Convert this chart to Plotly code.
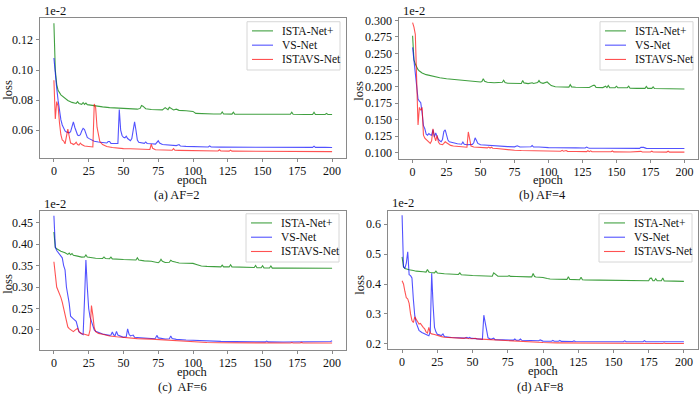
import plotly.graph_objects as go

# ---------------- data (epoch, loss in units of 1e-2) ----------------
series_names = ["ISTA-Net+", "VS-Net", "ISTAVS-Net"]
x_ticks = [0, 25, 50, 75, 100, 125, 150, 175, 200]

af2_ista = [(0,0.131),(1,0.100),(2,0.0905),(3,0.0865),(5,0.0835),(8,0.081),(10,0.0798),(13,0.0785),(15,0.0778),(16,0.0778),(17,0.0790),(18,0.0778),(20,0.0772),(21,0.0784),(22,0.0772),(23,0.0780),(24,0.0770),(27,0.0765),(30,0.0760),(35,0.0755),(40,0.0750),(45,0.0747),(50,0.0744),(55,0.0742),(60,0.0740),(62,0.0745),(63,0.0765),(64,0.0760),(66,0.0743),(70,0.0738),(75,0.0736),(78,0.0735),(80,0.0750),(81,0.0745),(82,0.0737),(83,0.0752),(84,0.0745),(86,0.0735),(88,0.0740),(89,0.0733),(90,0.0732),(95,0.0729),(98,0.0727),(100,0.0725),(102,0.0712),(105,0.0710),(110,0.0709),(115,0.0708),(120,0.0708),(121,0.0722),(122,0.0708),(125,0.0707),(128,0.0707),(129,0.0720),(130,0.0707),(140,0.0706),(150,0.0706),(160,0.0706),(170,0.0706),(171,0.0720),(172,0.0706),(180,0.0705),(186,0.0705),(187,0.0720),(188,0.0705),(195,0.0705),(196,0.0712),(197,0.0705),(200,0.0705)]
af2_vs = [(0,0.108),(1,0.095),(2,0.088),(3,0.080),(4,0.0715),(5,0.067),(6,0.0635),(7,0.061),(8,0.0595),(9,0.0588),(10,0.0585),(11,0.0583),(12,0.059),(13,0.0625),(14,0.0655),(15,0.062),(16,0.0585),(17,0.0568),(18,0.0564),(19,0.0570),(20,0.0595),(21,0.0613),(22,0.0605),(23,0.0575),(24,0.0553),(25,0.0546),(27,0.0535),(29,0.0527),(32,0.0522),(35,0.0518),(38,0.0515),(39,0.0525),(40,0.0525),(41,0.0513),(44,0.051),(46,0.0512),(47,0.0737),(48,0.060),(49,0.0565),(50,0.0553),(51,0.0550),(52,0.0560),(53,0.0545),(55,0.0530),(56,0.0545),(57,0.0620),(58,0.0655),(59,0.0600),(60,0.0535),(61,0.0520),(63,0.0515),(65,0.0513),(66,0.0522),(67,0.0512),(70,0.051),(73,0.0508),(75,0.053),(76,0.0515),(78,0.0505),(82,0.0503),(85,0.050),(88,0.0498),(90,0.0505),(91,0.0495),(95,0.0493),(100,0.0492),(105,0.049),(111,0.0489),(112,0.0496),(113,0.0489),(120,0.0488),(130,0.0487),(140,0.0487),(150,0.0486),(170,0.0486),(186,0.0486),(187,0.0494),(188,0.0486),(195,0.0486),(200,0.0485)]
af2_istavs = [(0,0.0932),(1,0.0675),(2,0.0790),(3,0.0760),(4,0.0650),(5,0.0570),(6,0.0535),(7,0.0528),(8,0.0510),(9,0.0575),(10,0.0607),(11,0.0560),(12,0.0515),(13,0.0512),(14,0.0505),(15,0.0510),(16,0.0520),(17,0.0505),(18,0.0502),(19,0.0515),(20,0.0505),(22,0.0495),(25,0.0490),(28,0.0489),(29,0.0775),(30,0.0750),(31,0.0620),(32,0.0560),(33,0.0525),(35,0.0505),(38,0.0492),(42,0.0485),(47,0.0480),(50,0.0478),(55,0.0477),(60,0.0475),(65,0.0473),(69,0.0472),(70,0.0507),(71,0.0480),(73,0.0470),(80,0.0468),(85,0.0467),(86,0.0478),(87,0.0467),(90,0.0466),(100,0.0464),(110,0.0463),(118,0.0462),(119,0.0470),(120,0.0462),(126,0.0461),(127,0.0468),(128,0.0461),(140,0.0460),(150,0.0459),(160,0.0459),(175,0.0458),(190,0.0458),(200,0.0458)]

af4_ista = [(0,0.2768),(1,0.2404),(2,0.2340),(3,0.2285),(4,0.2255),(5,0.2235),(7,0.2205),(10,0.218),(15,0.2153),(20,0.2132),(25,0.2118),(30,0.2107),(35,0.2095),(40,0.2083),(45,0.2075),(50,0.2068),(51,0.2075),(52,0.2117),(53,0.2080),(55,0.2064),(60,0.2058),(65,0.2055),(66,0.2065),(67,0.2095),(68,0.2060),(70,0.2050),(75,0.2048),(80,0.2046),(81,0.2090),(82,0.2055),(85,0.2045),(88,0.2058),(89,0.2046),(92,0.2060),(93,0.2090),(94,0.2060),(96,0.2048),(98,0.2055),(99,0.2070),(100,0.2050),(102,0.2015),(105,0.1998),(110,0.1995),(115,0.1992),(116,0.2028),(117,0.1995),(120,0.1990),(125,0.1988),(130,0.1986),(133,0.2020),(134,0.2018),(135,0.1985),(140,0.1984),(142,0.2005),(143,0.1984),(144,0.2015),(145,0.1984),(149,0.1983),(150,0.2005),(151,0.1982),(158,0.1982),(159,0.2005),(160,0.1975),(165,0.1973),(171,0.1972),(172,0.2000),(173,0.1972),(176,0.1972),(177,0.1995),(178,0.1970),(185,0.1966),(190,0.1964),(200,0.1962)]
af4_vs = [(0,0.2593),(1,0.2404),(2,0.2157),(3,0.1960),(4,0.1810),(5,0.1780),(6,0.1755),(7,0.1606),(8,0.1408),(9,0.1362),(10,0.1280),(11,0.1265),(12,0.1290),(13,0.1270),(14,0.1264),(15,0.1350),(16,0.1235),(17,0.1298),(18,0.1240),(19,0.1200),(20,0.1180),(21,0.1165),(22,0.1200),(23,0.1320),(24,0.1345),(25,0.1250),(26,0.1190),(27,0.1165),(30,0.1145),(33,0.1135),(35,0.1130),(36,0.1128),(37,0.1160),(38,0.1128),(40,0.1120),(44,0.1125),(45,0.1150),(46,0.1225),(47,0.1185),(48,0.1140),(50,0.1120),(53,0.1115),(55,0.1110),(58,0.1115),(60,0.1105),(65,0.1098),(70,0.1092),(75,0.1088),(77,0.1105),(79,0.1085),(85,0.1082),(87,0.1090),(88,0.1108),(89,0.1085),(93,0.1085),(95,0.1080),(100,0.1077),(105,0.1075),(109,0.1075),(110,0.1082),(111,0.1074),(120,0.1072),(127,0.1070),(128,0.1085),(129,0.1075),(130,0.1068),(140,0.1067),(150,0.1066),(160,0.1065),(167,0.1065),(168,0.1080),(170,0.1080),(172,0.1065),(180,0.1064),(190,0.1063),(200,0.1062)]
af4_istavs = [(0,0.2966),(1,0.2900),(2,0.2790),(3,0.2200),(4,0.1420),(5,0.1685),(6,0.1640),(7,0.1685),(8,0.1264),(9,0.1220),(10,0.1200),(11,0.1180),(12,0.1150),(13,0.1140),(14,0.1180),(15,0.1362),(16,0.1250),(17,0.1180),(18,0.1260),(19,0.1160),(20,0.1130),(22,0.1120),(23,0.1140),(24,0.1165),(25,0.1150),(27,0.1120),(28,0.1110),(30,0.1100),(35,0.1088),(40,0.1082),(41,0.1313),(42,0.1200),(43,0.1100),(45,0.1085),(50,0.1078),(55,0.1072),(56,0.1085),(57,0.1070),(58,0.1082),(59,0.1068),(62,0.1062),(65,0.1055),(70,0.1045),(75,0.1036),(80,0.1032),(90,0.1027),(100,0.1024),(109,0.1022),(110,0.1035),(111,0.1022),(113,0.1032),(114,0.1020),(120,0.1018),(128,0.1016),(129,0.1030),(130,0.1016),(131,0.1028),(132,0.1015),(140,0.1014),(146,0.1013),(147,0.1025),(148,0.1012),(160,0.1011),(165,0.1011),(166,0.1022),(167,0.1011),(168,0.1020),(169,0.1010),(175,0.1010),(176,0.1022),(177,0.1010),(187,0.1009),(188,0.1022),(189,0.1009),(200,0.1008)]

af6_ista = [(0,0.428),(1,0.392),(2,0.389),(3,0.387),(5,0.3835),(8,0.380),(10,0.376),(11,0.379),(12,0.375),(13,0.378),(14,0.374),(17,0.372),(20,0.3697),(22,0.3700),(23,0.3747),(24,0.3700),(27,0.3685),(30,0.3670),(35,0.3665),(36,0.3700),(37,0.3665),(40,0.3660),(41,0.3695),(42,0.3655),(50,0.3640),(55,0.3635),(59,0.3630),(60,0.3680),(61,0.3630),(65,0.3610),(70,0.3600),(75,0.3567),(76,0.3590),(77,0.3645),(78,0.3600),(80,0.3570),(83,0.3575),(84,0.3625),(85,0.3600),(88,0.3575),(90,0.3560),(95,0.3555),(100,0.3550),(103,0.3520),(106,0.3490),(110,0.3480),(115,0.3475),(120,0.3470),(121,0.3510),(122,0.3470),(126,0.3468),(127,0.3520),(128,0.3470),(135,0.3460),(140,0.3456),(144,0.3455),(145,0.3500),(146,0.3450),(149,0.3450),(150,0.3495),(151,0.3445),(155,0.3442),(156,0.3490),(157,0.3440),(165,0.3440),(175,0.3439),(185,0.3438),(200,0.3438)]
af6_vs = [(0,0.466),(1,0.393),(2,0.385),(3,0.380),(4,0.376),(5,0.371),(6,0.368),(7,0.350),(8,0.340),(9,0.300),(10,0.285),(11,0.262),(12,0.232),(13,0.228),(14,0.226),(15,0.223),(16,0.220),(17,0.208),(18,0.196),(19,0.193),(20,0.191),(21,0.189),(22,0.270),(23,0.363),(24,0.300),(25,0.250),(26,0.230),(27,0.218),(28,0.208),(29,0.200),(30,0.197),(33,0.193),(35,0.1904),(40,0.1874),(41,0.1880),(42,0.1950),(43,0.1880),(44,0.1870),(45,0.1966),(46,0.1880),(48,0.1850),(50,0.1828),(52,0.1840),(53,0.2027),(54,0.1900),(55,0.1860),(57,0.1880),(58,0.1830),(60,0.1825),(65,0.1810),(70,0.1800),(73,0.1805),(74,0.1873),(75,0.1815),(78,0.1795),(80,0.1790),(83,0.1795),(84,0.1858),(85,0.1800),(88,0.1780),(95,0.1765),(100,0.1755),(110,0.1745),(120,0.1733),(130,0.1728),(140,0.1725),(152,0.1722),(153,0.1740),(154,0.1721),(165,0.1720),(179,0.1719),(180,0.1735),(181,0.1719),(190,0.1718),(198,0.1718),(199,0.1730),(200,0.1750)]
af6_istavs = [(0,0.359),(1,0.320),(2,0.300),(3,0.292),(4,0.285),(5,0.276),(6,0.265),(7,0.250),(8,0.232),(9,0.214),(10,0.207),(11,0.203),(12,0.200),(13,0.197),(14,0.196),(15,0.199),(16,0.201),(17,0.2036),(18,0.196),(19,0.193),(20,0.191),(22,0.190),(24,0.188),(25,0.187),(26,0.200),(27,0.257),(28,0.234),(29,0.205),(30,0.196),(32,0.192),(35,0.190),(40,0.186),(45,0.184),(50,0.182),(55,0.181),(60,0.1797),(70,0.1785),(75,0.1774),(80,0.1760),(90,0.1735),(100,0.1718),(110,0.1708),(120,0.1700),(130,0.1698),(140,0.1697),(141,0.1712),(142,0.1697),(157,0.1696),(158,0.1710),(159,0.1696),(170,0.1695),(171,0.1708),(172,0.1695),(177,0.1695),(178,0.1710),(179,0.1695),(192,0.1695),(193,0.1706),(194,0.1695),(200,0.1695)]

af8_ista = [(0,0.491),(1,0.458),(2,0.452),(3,0.450),(5,0.4475),(8,0.445),(10,0.443),(15,0.441),(17,0.440),(18,0.4485),(19,0.440),(20,0.4385),(23,0.4375),(24,0.443),(25,0.437),(30,0.4342),(35,0.433),(40,0.432),(41,0.4375),(42,0.431),(50,0.4287),(55,0.4278),(60,0.4265),(64,0.4262),(65,0.4375),(66,0.433),(68,0.4262),(75,0.426),(76,0.4280),(77,0.4255),(79,0.4255),(80,0.4275),(81,0.4250),(90,0.4240),(92,0.4240),(93,0.4350),(94,0.4250),(95,0.4235),(100,0.4220),(103,0.4185),(105,0.4166),(110,0.4160),(115,0.4155),(117,0.4155),(118,0.4245),(119,0.4155),(126,0.4145),(127,0.4225),(128,0.4140),(130,0.4134),(140,0.4130),(150,0.4125),(155,0.4112),(170,0.4108),(175,0.4107),(176,0.4190),(177,0.4195),(178,0.4110),(179,0.4110),(180,0.4180),(181,0.4108),(184,0.4108),(185,0.4200),(186,0.4105),(190,0.4100),(200,0.4090)]
af8_vs = [(0,0.630),(1,0.458),(2,0.452),(3,0.470),(4,0.508),(5,0.431),(6,0.428),(7,0.420),(8,0.349),(9,0.294),(10,0.270),(11,0.255),(12,0.245),(14,0.238),(16,0.233),(17,0.230),(18,0.228),(19,0.227),(20,0.240),(21,0.436),(22,0.330),(23,0.255),(24,0.240),(25,0.232),(27,0.229),(28,0.228),(29,0.233),(30,0.224),(35,0.221),(40,0.220),(45,0.219),(46,0.2215),(47,0.2185),(48,0.2215),(49,0.218),(50,0.218),(55,0.2157),(57,0.2150),(58,0.2957),(59,0.2700),(60,0.2320),(61,0.2200),(63,0.2150),(64,0.2160),(65,0.2185),(66,0.2140),(70,0.2135),(75,0.2128),(79,0.2122),(80,0.2160),(81,0.2120),(83,0.2118),(84,0.2160),(85,0.2115),(90,0.2113),(97,0.2100),(98,0.2130),(99,0.2095),(100,0.2090),(106,0.2085),(107,0.2110),(108,0.2083),(111,0.2082),(112,0.2110),(113,0.2080),(121,0.2078),(122,0.2095),(123,0.2077),(130,0.2075),(140,0.2073),(150,0.2070),(157,0.2070),(158,0.2100),(159,0.2070),(171,0.2068),(172,0.2105),(173,0.2068),(182,0.2067),(183,0.2085),(184,0.2067),(200,0.2066)]
af8_istavs = [(0,0.411),(1,0.400),(2,0.375),(3,0.354),(4,0.350),(5,0.335),(6,0.300),(7,0.278),(8,0.271),(9,0.290),(10,0.282),(11,0.272),(12,0.266),(13,0.268),(14,0.260),(15,0.255),(16,0.250),(17,0.240),(18,0.236),(19,0.255),(20,0.236),(21,0.233),(23,0.231),(25,0.2275),(28,0.224),(30,0.2216),(35,0.220),(40,0.219),(44,0.218),(45,0.2205),(46,0.2175),(50,0.217),(52,0.2185),(53,0.2165),(55,0.216),(60,0.2135),(65,0.2120),(70,0.2110),(80,0.2080),(90,0.2060),(100,0.2040),(110,0.2030),(120,0.2025),(130,0.2020),(137,0.2020),(138,0.2035),(139,0.2018),(150,0.2015),(160,0.2013),(165,0.2012),(166,0.2025),(167,0.2012),(175,0.2011),(185,0.2011),(186,0.2025),(187,0.2011),(200,0.2011)]

af2_yticks = [0.06, 0.08, 0.10, 0.12]
af4_yticks = [0.100, 0.125, 0.150, 0.175, 0.200, 0.225, 0.250, 0.275, 0.300]
af6_yticks = [0.20, 0.25, 0.30, 0.35, 0.40, 0.45]
af8_yticks = [0.2, 0.3, 0.4, 0.5, 0.6]
captions = ["(a) AF=2", "(b) AF=4", "(c)  AF=6", "(d) AF=8"]

# ---------------- styling / layout ----------------
W, H = 700, 396
FONT = "Liberation Serif"
colors = ["rgba(0,128,0,0.75)", "rgba(0,0,255,0.68)", "rgba(255,0,0,0.68)"]
AX = "#8a8a8a"
TXT = "#111"

def px(x):
    return x / W

def py(y):
    return 1 - y / H

panels = [
    dict(data=[af2_ista, af2_vs, af2_istavs], yticks=af2_yticks, fmt=".2f",
         box=(40, 346, 14, 156), yr=(0.0418, 0.1347),
         e1=(42, 7), loss=(8, 87), epoch=(193, 179), cap=(177, 193.5), leg=(340, 18)),
    dict(data=[af4_ista, af4_vs, af4_istavs], yticks=af4_yticks, fmt=".3f",
         box=(399, 698, 14, 157), yr=(0.0910, 0.3040),
         e1=(401, 7), loss=(359, 88), epoch=(548, 179), cap=(542, 193.5), leg=(693, 18)),
    dict(data=[af6_ista, af6_vs, af6_istavs], yticks=af6_yticks, fmt=".2f",
         box=(40, 346, 210, 351), yr=(0.1540, 0.4775),
         e1=(42, 203), loss=(8, 284), epoch=(192, 374), cap=(182, 388.5), leg=(339, 213)),
    dict(data=[af8_ista, af8_vs, af8_istavs], yticks=af8_yticks, fmt=".1f",
         box=(388, 698, 210, 350), yr=(0.1835, 0.6450),
         e1=(390, 202), loss=(360, 285), epoch=(543, 373), cap=(540, 388.5), leg=(692, 213)),
]

fig = go.Figure()
layout = dict(
    width=W, height=H, autosize=False,
    margin=dict(l=0, r=0, t=0, b=0),
    paper_bgcolor="white", plot_bgcolor="white",
    font=dict(family=FONT, size=12, color=TXT),
    showlegend=False,
)
annotations = []
shapes = []

for i, p in enumerate(panels):
    n = "" if i == 0 else str(i + 1)
    for j, series in enumerate(p["data"]):
        fig.add_trace(go.Scatter(
            x=[e for e, _ in series], y=[v for _, v in series],
            mode="lines", name=series_names[j],
            line=dict(color=colors[j], width=1.1),
            xaxis="x" + n, yaxis="y" + n,
        ))
    x0, x1, y0, y1 = p["box"]
    common = dict(showline=True, mirror=True, linecolor=AX, linewidth=1,
                  ticks="outside", ticklen=3.5, tickwidth=1, tickcolor=AX,
                  showgrid=False, zeroline=False,
                  tickfont=dict(family=FONT, size=12, color=TXT))
    layout["xaxis" + n] = dict(domain=[px(x0), px(x1)], range=[-10, 210],
                               tickvals=x_ticks, anchor="y" + n,
                               ticklabelstandoff=-2, **common)
    layout["yaxis" + n] = dict(domain=[py(y1), py(y0)], range=list(p["yr"]),
                               tickvals=p["yticks"], tickformat=p["fmt"],
                               anchor="x" + n, **common)
    # legend box (matplotlib-style) drawn in paper coordinates
    R, T = p["leg"]
    shapes.append(dict(type="rect", xref="paper", yref="paper",
                       x0=px(R - 93), x1=px(R), y0=py(T + 49), y1=py(T),
                       line=dict(color="#d6d6d6", width=1),
                       fillcolor="rgba(255,255,255,0.85)", layer="above"))
    for j, name in enumerate(series_names):
        ry = T + 9.3 + j * 14.5
        shapes.append(dict(type="line", xref="paper", yref="paper",
                           x0=px(R - 88), x1=px(R - 67), y0=py(ry), y1=py(ry),
                           line=dict(color=colors[j], width=1.1), layer="above"))
        annotations.append(dict(text=name, x=px(R - 60), y=py(ry),
                                xanchor="left", yanchor="middle", size=11.5))
    annotations += [
        dict(text="1e-2", x=px(p["e1"][0]), y=py(p["e1"][1]), xanchor="left", yanchor="middle"),
        dict(text="loss", x=px(p["loss"][0]), y=py(p["loss"][1]), xanchor="center", yanchor="middle", textangle=-90),
        dict(text="epoch", x=px(p["epoch"][0]), y=py(p["epoch"][1]), xanchor="center", yanchor="middle"),
        dict(text=captions[i], x=px(p["cap"][0]), y=py(p["cap"][1]), xanchor="center", yanchor="middle"),
    ]

for a in annotations:
    size = a.pop("size", 12.5)
    a.update(xref="paper", yref="paper", showarrow=False,
             font=dict(family=FONT, size=size, color=TXT))
layout["annotations"] = annotations
layout["shapes"] = shapes
fig.update_layout(**layout)
fig.write_html("out.html",
               config={"displayModeBar": False, "staticPlot": True},
               post_script="document.body.style.margin='0';document.body.style.overflow='hidden';")
